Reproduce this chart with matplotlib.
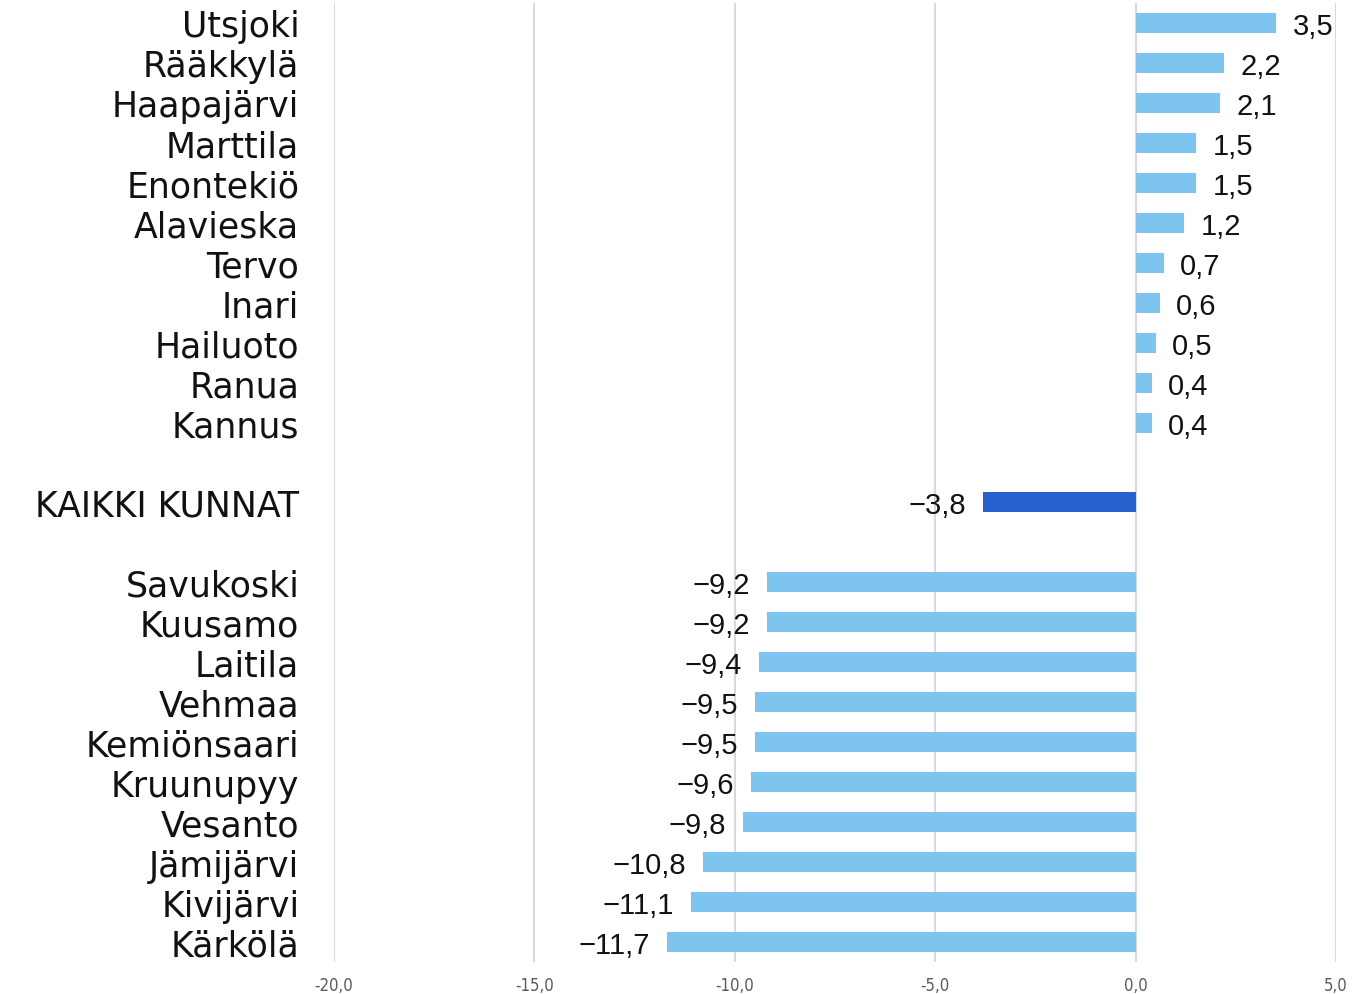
import matplotlib
matplotlib.use("Agg")
import matplotlib.pyplot as plt

top_names = ["Utsjoki", "Rääkkylä", "Haapajärvi", "Marttila", "Enontekiö", "Alavieska",
             "Tervo", "Inari", "Hailuoto", "Ranua", "Kannus"]
top_values = [3.5, 2.2, 2.1, 1.5, 1.5, 1.2, 0.7, 0.6, 0.5, 0.4, 0.4]
total_name = "KAIKKI KUNNAT"
total_value = -3.8
bottom_names = ["Savukoski", "Kuusamo", "Laitila", "Vehmaa", "Kemiönsaari", "Kruunupyy",
                "Vesanto", "Jämijärvi", "Kivijärvi", "Kärkölä"]
bottom_values = [-9.2, -9.2, -9.4, -9.5, -9.5, -9.6, -9.8, -10.8, -11.1, -11.7]
x_ticks = [-20, -15, -10, -5, 0, 5]

light = "#7DC5EF"
dark = "#2560CD"

names = top_names + [""] + [total_name] + [""] + bottom_names
values = top_values + [None] + [total_value] + [None] + bottom_values
colors = [light] * len(top_names) + [None] + [dark] + [None] + [light] * len(bottom_names)

fig = plt.figure(figsize=(13.53, 9.95), dpi=100)
ax = fig.add_axes([334 / 1353, 32 / 995, (1336 - 334) / 1353, (991 - 32) / 995])

for i, (v, c) in enumerate(zip(values, colors)):
    if v is None:
        continue
    ax.barh(i, v, height=0.5, color=c, zorder=3)
    lbl = f"{v:.1f}".replace(".", ",").replace("-", "\u2212")
    if v >= 0:
        ax.annotate(lbl, (v, i), xytext=(12, 0), textcoords="offset points",
                    ha="left", va="center_baseline", fontsize=21, family="Liberation Sans", color="#111111")
    else:
        ax.annotate(lbl, (v, i), xytext=(-12, 0), textcoords="offset points",
                    ha="right", va="center_baseline", fontsize=21, family="Liberation Sans", color="#111111")

ax.set_ylim(len(names) - 0.5, -0.5)
ax.set_xlim(-20, 5)
ax.set_xticks(x_ticks)
ax.set_xticklabels([f"{t:.1f}".replace(".", ",") for t in x_ticks], fontsize=12,
                   family="DejaVu Sans", fontstretch="condensed", color="#595959")
ax.set_yticks(range(len(names)))
ax.set_yticklabels(names, fontsize=25, family="DejaVu Sans", color="#111111")
ax.tick_params(axis="y", length=0, pad=25)
ax.tick_params(axis="x", length=0, pad=10)
ax.grid(axis="x", color="#d9d9d9", linewidth=1.5, zorder=0)
for s in ax.spines.values():
    s.set_visible(False)

fig.savefig("out.png", dpi=100)
